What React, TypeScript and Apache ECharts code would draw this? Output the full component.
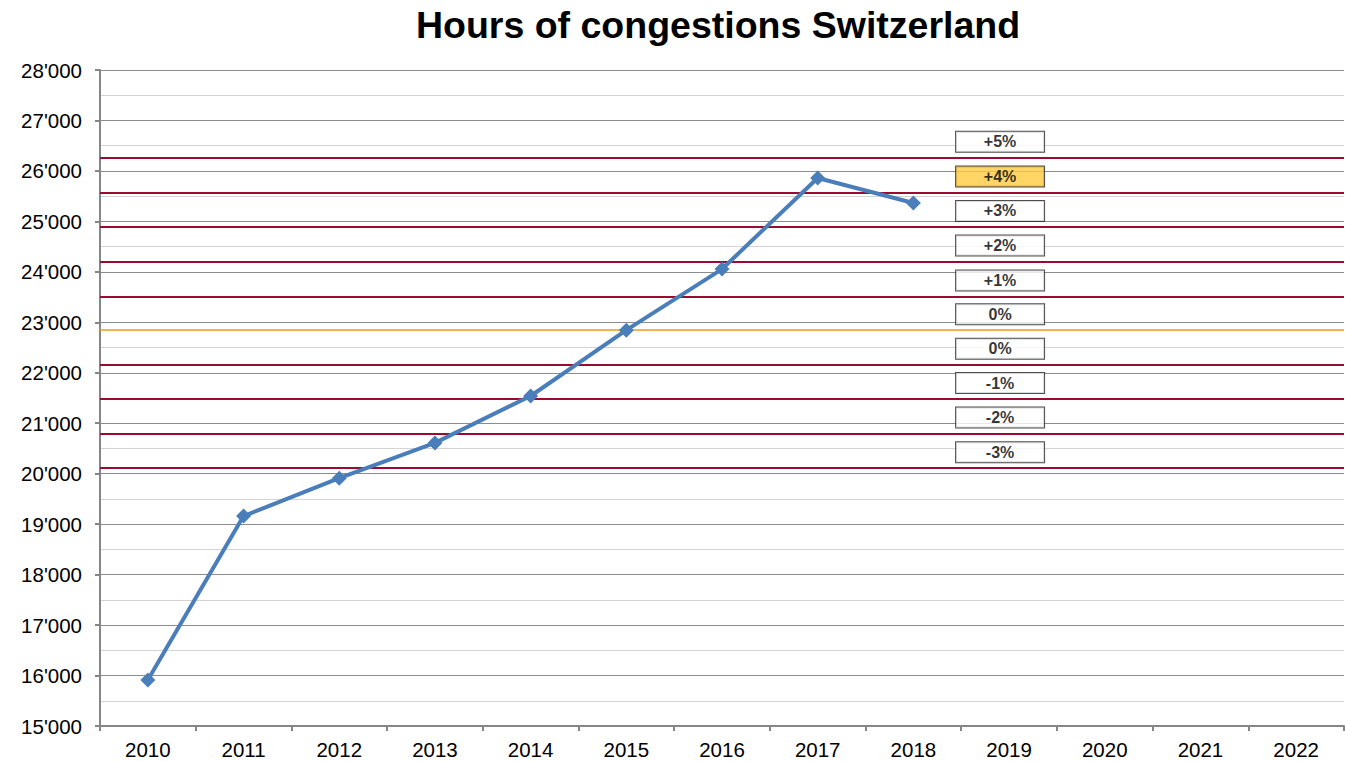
import React, { useEffect, useRef } from "react";
import * as echarts from "echarts";

const years = ["2010", "2011", "2012", "2013", "2014", "2015", "2016", "2017", "2018", "2019", "2020", "2021", "2022"];
const congestionHours = [15910, 19160, 19910, 20610, 21540, 22845, 24055, 25860, 25365];
const thresholdValues = [26260, 25570, 24890, 24205, 23510, 22845, 22160, 21480, 20795, 20110];
const thresholdLabels = ["+5%", "+4%", "+3%", "+2%", "+1%", "0%", "0%", "-1%", "-2%", "-3%"];
const thresholdIsBase = [false, false, false, false, false, true, false, false, false, false];
const highlightedIndex = 1;
const labelCategory = "2019";

export default function App() {
  const ref = useRef<HTMLDivElement>(null);
  useEffect(() => {
    if (!ref.current) return;
    const chart = echarts.init(ref.current, null, { renderer: "svg" });
    const font = "Arial, 'Liberation Sans', sans-serif";
    chart.setOption({
      animation: false,
      graphic: [
        {
          type: "text",
          x: 718,
          y: 25,
          style: {
            text: "Hours of congestions Switzerland",
            font: `bold 37.5px ${font}`,
            fill: "#000",
            textAlign: "center",
            textVerticalAlign: "middle",
          },
        },
      ],
      grid: { left: 100, right: 1, top: 70, bottom: 36, containLabel: false },
      xAxis: {
        type: "category",
        data: years,
        boundaryGap: true,
        axisLine: { lineStyle: { color: "#868686", width: 2 } },
        axisTick: { show: true, length: 5, interval: 0, lineStyle: { color: "#868686", width: 2 } },
        axisLabel: { color: "#000", fontSize: 20.5, fontFamily: font, margin: 13 },
        splitLine: { show: false },
      },
      yAxis: {
        type: "value",
        min: 15000,
        max: 28000,
        interval: 1000,
        axisLine: { show: true, lineStyle: { color: "#868686", width: 2 } },
        axisTick: { show: true, length: 5, lineStyle: { color: "#868686", width: 2 } },
        axisLabel: {
          color: "#000",
          fontSize: 20.5,
          fontFamily: font,
          margin: 18,
          formatter: (v: number) => {
            const s = String(Math.round(v));
            return s.length > 3 ? s.slice(0, s.length - 3) + "'" + s.slice(-3) : s;
          },
        },
        splitLine: { show: true, lineStyle: { color: "#8c8c8c", width: 1 } },
        minorTick: { show: false, splitNumber: 2 },
        minorSplitLine: { show: true, lineStyle: { color: "#d4d4d4", width: 1 } },
      },
      series: [
        {
          type: "line",
          name: "thresholds",
          data: [],
          silent: true,
          markLine: {
            silent: true,
            symbol: "none",
            label: { show: false },
            data: thresholdValues.map((v, i) => ({
              yAxis: v,
              lineStyle: thresholdIsBase[i]
                ? { color: "#F39A1E", width: 1.5, type: "solid" }
                : { color: "#990b2f", width: 2.2, type: "solid" },
            })),
          },
        },
        {
          type: "line",
          name: "Hours of congestions",
          data: congestionHours,
          symbol: "diamond",
          symbolSize: 15,
          lineStyle: { color: "#4A7EBB", width: 4 },
          itemStyle: { color: "#4A7EBB" },
          z: 5,
        },
        {
          type: "scatter",
          name: "labels",
          symbol: "rect",
          symbolSize: 1,
          itemStyle: { color: "rgba(0,0,0,0)" },
          silent: true,
          z: 6,
          data: thresholdValues.map((v, i) => ({
            value: [labelCategory, v],
            label: {
              backgroundColor: i === highlightedIndex ? "#FFCC40" : "#fff",
            },
          })),
          label: {
            show: true,
            position: "inside",
            offset: [-9, -16],
            formatter: (p: any) => thresholdLabels[p.dataIndex],
            color: "#000",
            fontWeight: "bold",
            fontSize: 16,
            fontFamily: font,
            backgroundColor: "#fff",
            borderColor: "#222",
            borderWidth: 1,
            width: 88,
            height: 20,
            lineHeight: 20,
            align: "center",
            verticalAlign: "middle",
          },
        },
      ],
    });
    return () => chart.dispose();
  }, []);
  return (
    <div
      ref={ref}
      style={{ position: "absolute", left: 0, top: 0, width: 1345, height: 762, background: "#fff" }}
    />
  );
}
